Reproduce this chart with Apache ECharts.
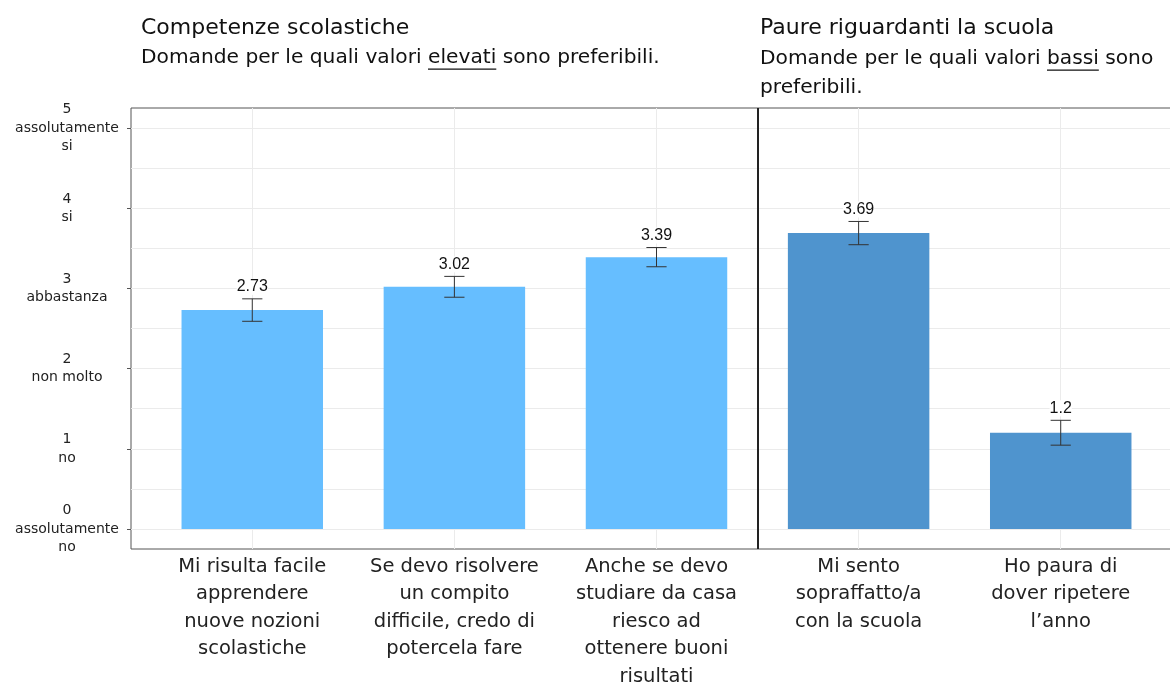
<!DOCTYPE html>
<html>
<head>
<meta charset="utf-8">
<script src="https://cdn.jsdelivr.net/npm/echarts@6/dist/echarts.min.js"></script>
<style>html,body{margin:0;padding:0;background:#fff}#c{width:1170px;height:684px}</style>
</head>
<body>
<div id="c"></div>
<script>
// ---- data ----
const categories = [
  "Mi risulta facile\napprendere\nnuove nozioni\nscolastiche",
  "Se devo risolvere\nun compito\ndifficile, credo di\npotercela fare",
  "Anche se devo\nstudiare da casa\nriesco ad\nottenere buoni\nrisultati",
  "Mi sento\nsopraffatto/a\ncon la scuola",
  "Ho paura di\ndover ripetere\nl’anno"
];
const means = [2.73, 3.02, 3.39, 3.69, 1.2];
const errors = [0.14, 0.13, 0.12, 0.145, 0.155];
const groups = ["competenze", "competenze", "competenze", "paure", "paure"];
const yTickValues = [0, 1, 2, 3, 4, 5];
const yTickLabels = ["assolutamente\nno", "no", "non molto", "abbastanza", "si", "assolutamente\nsi"];
const gridValues = [0, 0.5, 1, 1.5, 2, 2.5, 3, 3.5, 4, 4.5, 5];
const leftTitle = "Competenze scolastiche";
const leftSub = ["Domande per le quali valori ", "elevati", " sono preferibili."];
const rightTitle = "Paure riguardanti la scuola";
const rightSub1 = ["Domande per le quali valori ", "bassi", " sono"];
const rightSub2 = "preferibili.";

const groupColors = { competenze: "#66BEFF", paure: "#4F94CE" };
const FONT = "DejaVu Sans";
const TITLE_SIZE = 22, SUB_SIZE = 20.2;

const chart = echarts.init(document.getElementById('c'));

function textWidth(str, size) {
  const ctx = document.createElement('canvas').getContext('2d');
  ctx.font = size + 'px "' + FONT + '"';
  return ctx.measureText(str).width;
}

function subtitleGraphics(x, y, parts) {
  const els = [{ type: 'text', left: x, top: y - SUB_SIZE * 0.6, style: { text: parts.join(''), font: SUB_SIZE + 'px "' + FONT + '"', fill: '#111' } }];
  const x0 = x + textWidth(parts[0], SUB_SIZE);
  const x1 = x0 + textWidth(parts[1], SUB_SIZE);
  els.push({ type: 'line', shape: { x1: x0, y1: y + SUB_SIZE * 0.45, x2: x1, y2: y + SUB_SIZE * 0.45 }, style: { stroke: '#111', lineWidth: 1.3 } });
  return els;
}

const seriesData = means.map((m, i) => [i, m, errors[i], groups[i]]);

const option = {
  animation: false,
  backgroundColor: '#fff',
  grid: { left: 131, top: 108, right: -12, bottom: 135, show: true, borderColor: '#555', borderWidth: 1, containLabel: false, outerBoundsMode: 'none' },
  xAxis: {
    type: 'value', min: -0.6, max: 4.6, position: 'bottom',
    axisLine: { show: false, onZero: false }, axisTick: { show: false }, splitLine: { show: false },
    axisLabel: {
      customValues: [0, 1, 2, 3, 4],
      formatter: v => categories[Math.round(v)],
      fontFamily: FONT, fontSize: 19.5, lineHeight: 27.5, color: '#222', margin: 4
    }
  },
  yAxis: {
    type: 'value', min: -0.25, max: 5.25, interval: 0.25, position: 'left',
    axisLine: { show: false, onZero: false }, splitLine: { show: false },
    axisTick: { show: true, customValues: yTickValues, length: 4, lineStyle: { color: '#555' } },
    axisLabel: {
      customValues: yTickValues,
      formatter: v => { const i = Math.round(v); return i + '\n' + yTickLabels[i]; },
      fontFamily: FONT, fontSize: 14, lineHeight: 18.5, color: '#222', align: 'center', margin: 64
    }
  },
  graphic: [
    { type: 'text', left: 141, top: 31 - TITLE_SIZE * 0.62, style: { text: leftTitle, font: TITLE_SIZE + 'px "' + FONT + '"', fill: '#111' } },
    { type: 'text', left: 760, top: 31 - TITLE_SIZE * 0.62, style: { text: rightTitle, font: TITLE_SIZE + 'px "' + FONT + '"', fill: '#111' } },
    ...subtitleGraphics(141, 60, leftSub),
    ...subtitleGraphics(760, 61, rightSub1),
    { type: 'text', left: 760, top: 90 - SUB_SIZE * 0.6, style: { text: rightSub2, font: SUB_SIZE + 'px "' + FONT + '"', fill: '#111' } }
  ],
  series: [
    {
      type: 'line', data: [], z: 0, silent: true,
      markLine: {
        silent: true, symbol: 'none', label: { show: false }, animation: false, z: 0,
        lineStyle: { color: '#ebebeb', width: 1, type: 'solid' },
        data: gridValues.map(v => ({ yAxis: v })).concat([0, 1, 2, 3, 4].map(v => ({ xAxis: v })))
      }
    },
    {
      type: 'line', data: [], z: 5, silent: true,
      markLine: {
        silent: true, symbol: 'none', label: { show: false }, animation: false, z: 6,
        lineStyle: { color: '#222', width: 2, type: 'solid' },
        data: [{ xAxis: 2.5 }]
      }
    },
    {
      type: 'custom', z: 3,
      data: seriesData,
      encode: { x: 0, y: 1 },
      renderItem: function (params, api) {
        const x = api.value(0), v = api.value(1), e = api.value(2);
        const grp = groups[params.dataIndex];
        const top = api.coord([x, v]);
        const base = api.coord([x, 0]);
        const w = api.size([0.7, 0])[0];
        const hi = api.coord([x, v + e]);
        const lo = api.coord([x, v - e]);
        const cw = api.size([0.1, 0])[0] / 2;
        const stroke = { stroke: '#333', lineWidth: 1 };
        return {
          type: 'group',
          children: [
            { type: 'rect', shape: { x: top[0] - w / 2, y: top[1], width: w, height: base[1] - top[1] }, style: { fill: groupColors[grp] } },
            { type: 'line', shape: { x1: hi[0], y1: hi[1], x2: lo[0], y2: lo[1] }, style: stroke },
            { type: 'line', shape: { x1: hi[0] - cw, y1: hi[1], x2: hi[0] + cw, y2: hi[1] }, style: stroke },
            { type: 'line', shape: { x1: lo[0] - cw, y1: lo[1], x2: lo[0] + cw, y2: lo[1] }, style: stroke },
            { type: 'text', x: hi[0], y: hi[1] - 4, style: { text: String(v), font: '16px "Liberation Sans"', fill: '#111', align: 'center', verticalAlign: 'bottom', backgroundColor: '#fff' } }
          ]
        };
      }
    }
  ]
};
chart.setOption(option);
</script>
</body>
</html>
